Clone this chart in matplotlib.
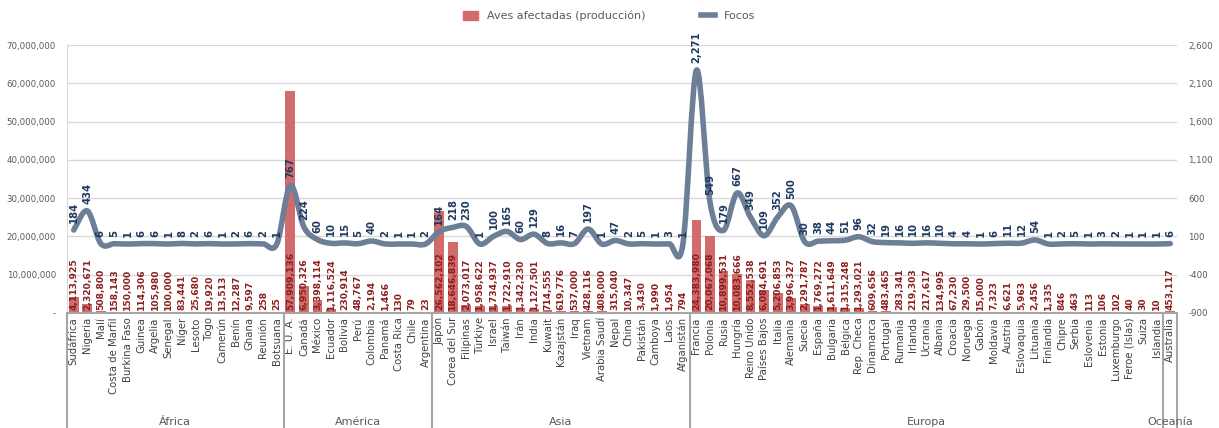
import numpy as np
import matplotlib
matplotlib.use("Agg")
from matplotlib import pyplot as plt
from matplotlib.path import Path
from matplotlib.patches import PathPatch
from matplotlib.lines import Line2D
from matplotlib.patches import Patch

plt.rcParams['font.family'] = ['DejaVu Sans']

# ---------------- datos por región ----------------
africa = ["Sudáfrica", "Nigeria", "Malí", "Costa de Marfil", "Burkina Faso", "Guinea",
          "Argelia", "Senegal", "Níger", "Lesoto", "Togo", "Camerún", "Benín", "Ghana",
          "Reunión", "Botsuana"]
africa_aves = [4113925, 2320671, 508800, 158143, 150000, 114306, 105980, 100000, 83441,
               25680, 19920, 13513, 12287, 9597, 258, 25]
africa_focos = [184, 434, 6, 5, 1, 6, 6, 1, 8, 2, 6, 1, 2, 6, 2, 1]

america = ["E. U. A.", "Canadá", "México", "Ecuador", "Bolivia", "Perú", "Colombia",
           "Panamá", "Costa Rica", "Chile", "Argentina"]
america_aves = [57909136, 6950326, 3398114, 1116524, 230914, 48767, 2194, 1466, 130, 79, 23]
america_focos = [767, 224, 60, 10, 15, 5, 40, 2, 1, 1, 2]

asia = ["Japón", "Corea del Sur", "Filipinas", "Türkiye", "Israel", "Taiwán", "Irán",
        "India", "Kuwait", "Kazajstán", "Iraq", "Vietnam", "Arabia Saudí", "Nepal",
        "China", "Pakistán", "Camboya", "Laos", "Afganistán"]
asia_aves = [26562102, 18646839, 2073017, 1958622, 1734937, 1722910, 1342230, 1127501,
             714555, 619776, 537000, 428116, 408000, 315040, 10347, 3430, 1990, 1954, 794]
asia_focos = [164, 218, 230, 1, 100, 165, 60, 129, 8, 16, 7, 197, 1, 47, 2, 5, 1, 3, 1]

europa = ["Francia", "Polonia", "Rusia", "Hungría", "Reino Unido", "Países Bajos", "Italia",
          "Alemania", "Suecia", "España", "Bulgaria", "Bélgica", "Rep. Checa", "Dinamarca",
          "Portugal", "Rumania", "Irlanda", "Ucrania", "Albania", "Croacia", "Noruega",
          "Gabón", "Moldavia", "Austria", "Eslovaquia", "Lituania", "Finlandia", "Chipre",
          "Serbia", "Eslovenia", "Estonia", "Luxemburgo", "Feroe (Islas)", "Suiza", "Islandia"]
europa_aves = [24383980, 20067068, 10899531, 10083666, 8552538, 6084691, 5206853, 3996327,
               2291787, 1769272, 1611649, 1315248, 1293021, 609656, 483465, 283341, 219303,
               217617, 134995, 67230, 29500, 15000, 7323, 6621, 5963, 2456, 1335, 846, 463,
               113, 106, 102, 40, 30, 10]
europa_focos = [2271, 549, 179, 667, 349, 109, 352, 500, 30, 38, 44, 51, 96, 32, 19, 16, 10,
                16, 10, 4, 4, 1, 6, 11, 12, 54, 1, 2, 5, 1, 3, 2, 1, 1, 1]

oceania = ["Australia"]
oceania_aves = [453117]
oceania_focos = [6]

regiones = ["África", "América", "Asia", "Europa", "Oceanía"]
grupos = [africa, america, asia, europa, oceania]

paises = africa + america + asia + europa + oceania
aves = np.array(africa_aves + america_aves + asia_aves + europa_aves + oceania_aves)
focos = np.array(africa_focos + america_focos + asia_focos + europa_focos + oceania_focos)
x = np.arange(len(paises))

c_bar = "#d26b6b"
c_bar_txt = "#8a1f1f"
c_line = "#6c7f97"
c_line_txt = "#1f3a60"
c_grid = "#d9d9d9"
c_txt = "#595959"

fig = plt.figure(figsize=(12.19, 4.28), dpi=100)
ax = fig.add_axes([67 / 1219, 1 - 313 / 428, 1110 / 1219, 268 / 428])
ax2 = ax.twinx()

# barras: aves afectadas
ax.bar(x, aves, width=0.72, color=c_bar, zorder=2)
ax.set_ylim(0, 70000000)
ax.set_yticks(np.arange(0, 70000001, 10000000))
ax.set_yticklabels(["-"] + [f"{v:,}" for v in range(10000000, 70000001, 10000000)])
ax.set_xlim(-0.5, len(paises) - 0.5)
ax.grid(axis="y", color=c_grid, lw=1, zorder=0)
ax.set_axisbelow(True)
for s in ["top", "right", "bottom"]:
    ax.spines[s].set_visible(False)
ax.spines["left"].set_color(c_grid)
ax.tick_params(axis="y", length=0, labelsize=6.2, labelcolor=c_txt, pad=8)
ax.set_xticks(x)
ax.set_xticklabels(paises, rotation=90, fontsize=7.3, color="#404040")
ax.tick_params(axis="x", length=0, pad=3)

for xi, v in zip(x, aves):
    ax.annotate(f"{v:,}", (xi, 0), xytext=(0, 2.5), textcoords="offset points",
                rotation=90, ha="center", va="bottom", fontsize=6.6, fontweight="bold",
                color=c_bar_txt, zorder=5)

# línea suavizada: focos (Catmull-Rom a Bezier)
ax2.set_ylim(-900, 2600)
ax2.set_yticks(np.arange(-900, 2601, 500))
ax2.set_yticklabels([f"{v:,}" for v in range(-900, 2601, 500)])
ax2.tick_params(axis="y", length=0, labelsize=6.2, labelcolor=c_txt, pad=8)
for s in ["top", "right", "bottom", "left"]:
    ax2.spines[s].set_visible(False)

pts = np.column_stack([x, focos]).astype(float)
ext = np.vstack([pts[0], pts, pts[-1]])
verts = [pts[0]]
codes = [Path.MOVETO]
for i in range(len(pts) - 1):
    p0, p1, p2, p3 = ext[i], ext[i + 1], ext[i + 2], ext[i + 3]
    verts += [p1 + (p2 - p0) / 6, p2 - (p3 - p1) / 6, p2]
    codes += [Path.CURVE4] * 3
ax2.add_patch(PathPatch(Path(verts, codes), fill=False, edgecolor=c_line, lw=4,
                        capstyle="round", joinstyle="round", zorder=3))

for xi, v in zip(x, focos):
    ax2.annotate(f"{v:,}", (xi, v), xytext=(0, 5), textcoords="offset points",
                 rotation=90, ha="center", va="bottom", fontsize=7.2, fontweight="bold",
                 color=c_line_txt, zorder=6)

# separadores y nombres de regiones bajo el eje
inicio = 0
bordes = [-0.5]
for g in grupos:
    inicio += len(g)
    bordes.append(inicio - 0.5)
trans = ax.get_xaxis_transform()
ax.plot([-0.5, len(paises) - 0.5], [0, 0], color="#a6a6a6", lw=1.5, transform=trans,
        clip_on=False, zorder=4)
for b in bordes:
    ax.plot([b, b], [0, -0.43], color="#a6a6a6", lw=1.5, transform=trans, clip_on=False)
for nombre, a, b in zip(regiones, bordes[:-1], bordes[1:]):
    ax.text((a + b) / 2, -0.405, nombre, transform=trans, ha="center", va="center",
            fontsize=8, color=c_txt)

handles = [Patch(color=c_bar), Line2D([0], [0], color=c_line, lw=4)]
fig.legend(handles, ["Aves afectadas (producción)", "Focos"], loc="center",
           bbox_to_anchor=(0.5, 1 - 16 / 428), ncol=2, frameon=False, fontsize=8,
           labelcolor=c_txt, columnspacing=5, handlelength=1.3, handleheight=0.9)

fig.savefig("out.png", dpi=100)
